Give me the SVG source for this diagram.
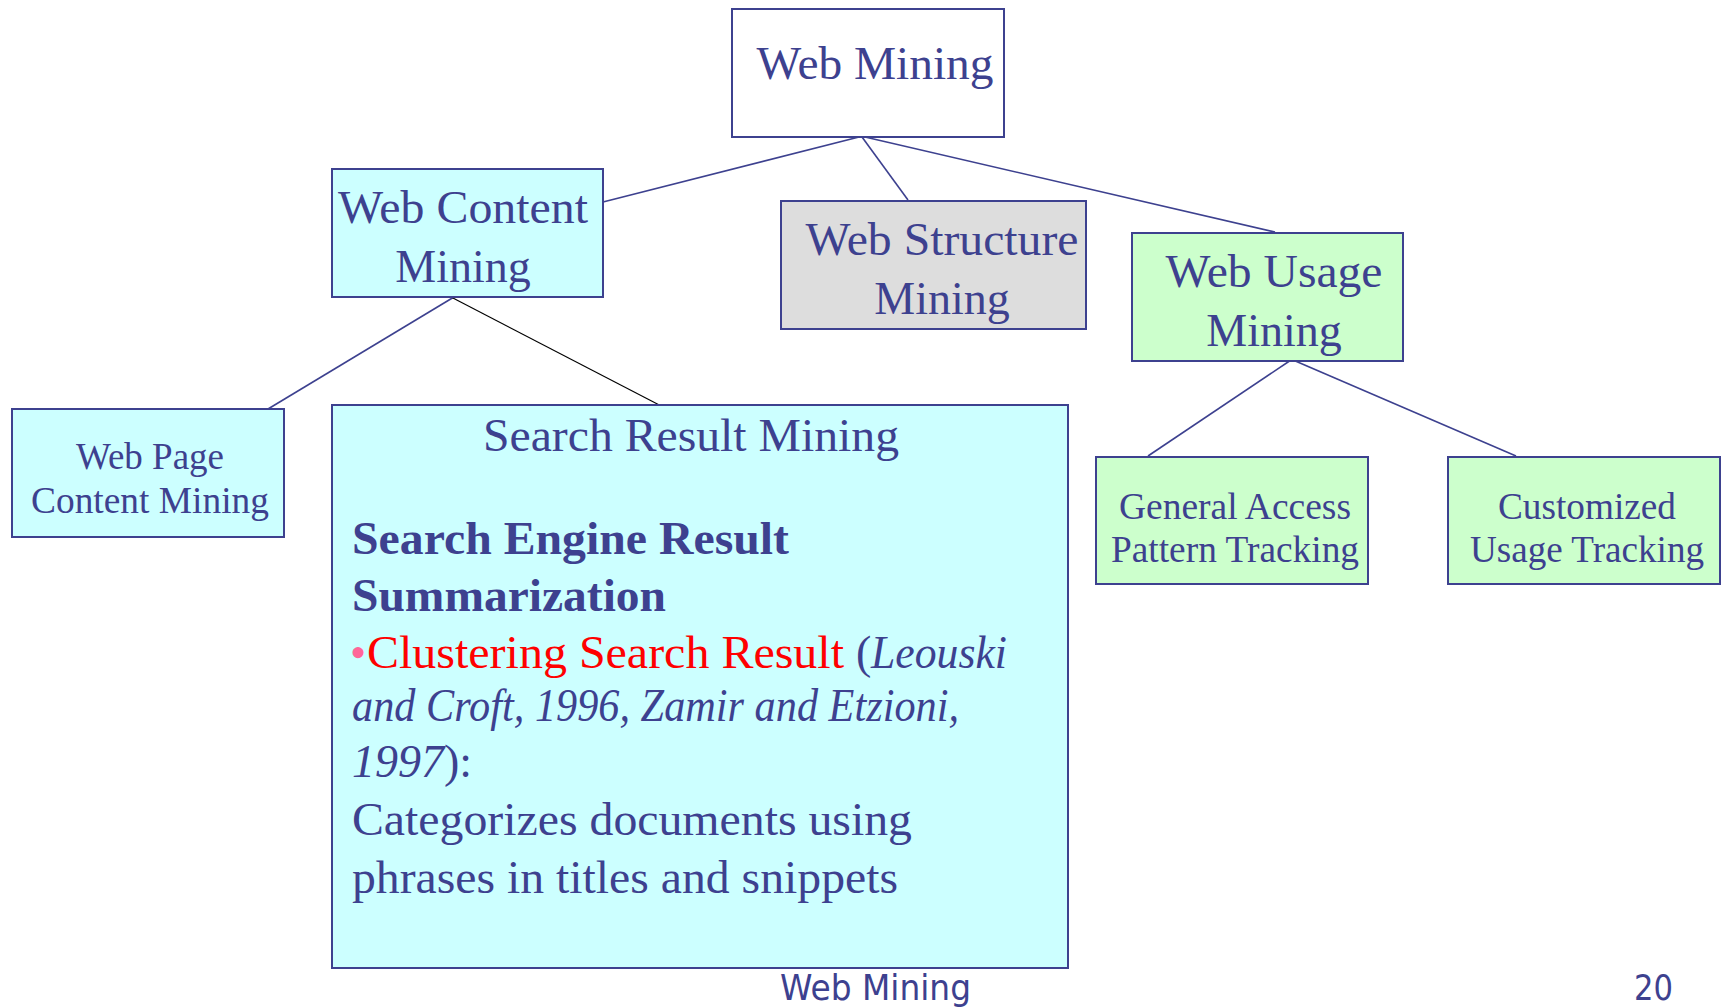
<svg xmlns="http://www.w3.org/2000/svg" width="1723" height="1008" viewBox="0 0 1723 1008">
<style>
.box{stroke:#3D418F;stroke-width:2}
.t{font-family:"Liberation Serif","Times New Roman",Times,serif;fill:#3D418F}
.c{text-anchor:middle}
.ln{stroke:#3D418F;stroke-width:1.6;fill:none}
.ft{font-family:"DejaVu Sans",Verdana,sans-serif;fill:#3D418F}
</style>
<rect width="1723" height="1008" fill="#ffffff"/>
<g id="connectors">
<line class="ln" x1="859" y1="137" x2="603" y2="202"/>
<line class="ln" x1="862" y1="137" x2="908" y2="200"/>
<line class="ln" x1="865" y1="137" x2="1275" y2="232"/>
<line class="ln" x1="454" y1="297" x2="268" y2="409"/>
<line x1="451" y1="297" x2="667" y2="409" stroke="#000000" stroke-width="1.2"/>
<line class="ln" x1="1291" y1="360" x2="1148" y2="456"/>
<line class="ln" x1="1293" y1="360" x2="1516" y2="456"/>
</g>
<g id="web-mining">
<rect class="box" x="732" y="9" width="272" height="128" fill="#ffffff"/>
<text class="t c" x="875" y="79" font-size="46" textLength="237" lengthAdjust="spacingAndGlyphs">Web Mining</text>
</g>
<g id="web-content-mining">
<rect class="box" x="332" y="169" width="271" height="128" fill="#CCFFFF"/>
<text class="t c" x="463" y="223" font-size="46" textLength="250" lengthAdjust="spacingAndGlyphs">Web Content</text>
<text class="t c" x="463" y="282" font-size="46">Mining</text>
</g>
<g id="web-structure-mining">
<rect class="box" x="781" y="201" width="305" height="128" fill="#DDDDDD"/>
<text class="t c" x="942" y="255" font-size="46" textLength="273" lengthAdjust="spacingAndGlyphs">Web Structure</text>
<text class="t c" x="942" y="314" font-size="46">Mining</text>
</g>
<g id="web-usage-mining">
<rect class="box" x="1132" y="233" width="271" height="128" fill="#CCFFCC"/>
<text class="t c" x="1274" y="287" font-size="46" textLength="217" lengthAdjust="spacingAndGlyphs">Web Usage</text>
<text class="t c" x="1274" y="346" font-size="46">Mining</text>
</g>
<g id="web-page-content-mining">
<rect class="box" x="12" y="409" width="272" height="128" fill="#CCFFFF"/>
<text class="t c" x="150" y="469" font-size="37">Web Page</text>
<text class="t c" x="150" y="513" font-size="37" textLength="238" lengthAdjust="spacingAndGlyphs">Content Mining</text>
</g>
<g id="search-result-mining">
<rect class="box" x="332" y="405" width="736" height="563" fill="#CCFFFF"/>
<text class="t c" x="691" y="451" font-size="46" textLength="416" lengthAdjust="spacingAndGlyphs">Search Result Mining</text>
<text class="t" x="352" y="554" font-size="46" font-weight="bold" textLength="437" lengthAdjust="spacingAndGlyphs">Search Engine Result</text>
<text class="t" x="352" y="611" font-size="46" font-weight="bold" textLength="314" lengthAdjust="spacingAndGlyphs">Summarization</text>
<text class="t" x="350" y="668" font-size="46"><tspan fill="#FF6699">•</tspan><tspan x="367" fill="#FF0000" textLength="477" lengthAdjust="spacingAndGlyphs">Clustering Search Result</tspan><tspan x="856">(</tspan><tspan x="871" font-style="italic" textLength="136" lengthAdjust="spacingAndGlyphs">Leouski</tspan></text>
<text class="t" x="352" y="721" font-size="46" font-style="italic" textLength="607" lengthAdjust="spacingAndGlyphs">and Croft, 1996, Zamir and Etzioni,</text>
<text class="t" x="352" y="777" font-size="46"><tspan font-style="italic">1997</tspan>):</text>
<text class="t" x="352" y="835" font-size="46" textLength="560" lengthAdjust="spacingAndGlyphs">Categorizes documents using</text>
<text class="t" x="352" y="893" font-size="46" textLength="546" lengthAdjust="spacingAndGlyphs">phrases in titles and snippets</text>
</g>
<g id="general-access">
<rect class="box" x="1096" y="457" width="272" height="127" fill="#CCFFCC"/>
<text class="t c" x="1235" y="519" font-size="37" textLength="232" lengthAdjust="spacingAndGlyphs">General Access</text>
<text class="t c" x="1235" y="562" font-size="37" textLength="248" lengthAdjust="spacingAndGlyphs">Pattern Tracking</text>
</g>
<g id="customized-usage">
<rect class="box" x="1448" y="457" width="272" height="127" fill="#CCFFCC"/>
<text class="t c" x="1587" y="519" font-size="37" textLength="178" lengthAdjust="spacingAndGlyphs">Customized</text>
<text class="t c" x="1587" y="562" font-size="37" textLength="234" lengthAdjust="spacingAndGlyphs">Usage Tracking</text>
</g>
<g id="footer">
<text class="ft" x="780" y="1000" font-size="36" textLength="191" lengthAdjust="spacingAndGlyphs">Web Mining</text>
<text class="ft" x="1634" y="1000" font-size="36" textLength="39" lengthAdjust="spacingAndGlyphs">20</text>
</g>
</svg>
